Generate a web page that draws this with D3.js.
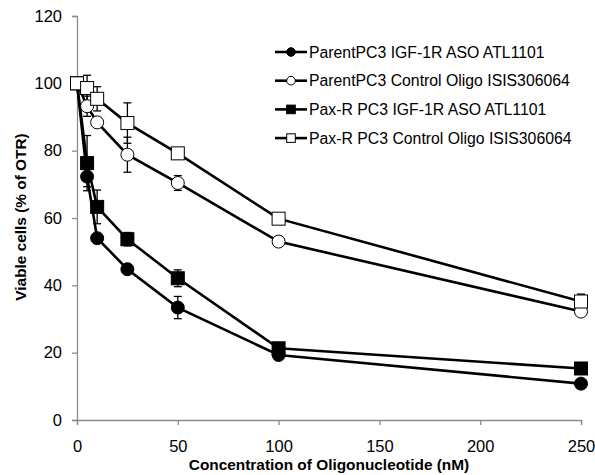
<!DOCTYPE html>
<html>
<head>
<meta charset="utf-8">
<script src="https://cdn.jsdelivr.net/npm/d3@7"></script>
<style>
  body { margin: 0; background: #fff; }
  svg text { font-family: "Liberation Sans", Arial, sans-serif; }
</style>
</head>
<body>
<svg width="595" height="475"></svg>
<script>
var conc = [0, 5, 10, 25, 50, 100, 250];

var seriesNames = [
  "ParentPC3 IGF-1R ASO ATL1101",
  "ParentPC3 Control Oligo ISIS306064",
  "Pax-R PC3 IGF-1R ASO ATL1101",
  "Pax-R PC3 Control Oligo ISIS306064"
];
var parentAso = [100, 72.3, 54, 44.8, 33.4, 19.3, 10.8];
var parentAsoErr = [0, 3, 1, 1, 3.3, 1, 0.8];
var parentCtrl = [100, 93.2, 88.4, 78.8, 70.4, 53, 32.2];
var parentCtrlErr = [0, 3, 1.5, 5.2, 2.2, 1, 1];
var paxAso = [100, 76.3, 63.3, 53.7, 42.1, 21.3, 15.3];
var paxAsoErr = [0, 8.2, 5, 2, 2.5, 1, 0.8];
var paxCtrl = [100, 98.6, 95.4, 88.2, 79.2, 59.8, 35.2];
var paxCtrlErr = [0, 3.8, 3.6, 6, 1.6, 1, 2.2];

var xTicks = [0, 50, 100, 150, 200, 250];
var yTicks = [0, 20, 40, 60, 80, 100, 120];

var svg = d3.select("svg");
var x = d3.scaleLinear().domain([0, 250]).range([77, 581]);
var y = d3.scaleLinear().domain([0, 120]).range([420, 16]);

var series = [
  { name: seriesNames[0], v: parentAso, e: parentAsoErr, shape: "circle", fill: "#000" },
  { name: seriesNames[1], v: parentCtrl, e: parentCtrlErr, shape: "circle", fill: "#fff" },
  { name: seriesNames[2], v: paxAso, e: paxAsoErr, shape: "square", fill: "#000" },
  { name: seriesNames[3], v: paxCtrl, e: paxCtrlErr, shape: "square", fill: "#fff" }
];

// axes
var xAxis = svg.append("g").attr("transform", "translate(0,420)")
  .call(d3.axisBottom(x).tickValues(xTicks).tickSize(5).tickPadding(15));
var yAxis = svg.append("g").attr("transform", "translate(77,0)")
  .call(d3.axisLeft(y).tickValues(yTicks).tickSize(5).tickPadding(10));
[xAxis, yAxis].forEach(function(a) {
  a.selectAll("path, line").attr("stroke", "#8c8c8c").attr("stroke-width", 1.3);
  a.selectAll("text").attr("font-size", 16.5).attr("fill", "#000")
    .style("font-family", "'Liberation Sans', Arial, sans-serif");
});

svg.append("text").attr("x", 329).attr("y", 470)
  .attr("text-anchor", "middle").attr("font-size", 15.4).attr("font-weight", "bold")
  .text("Concentration of Oligonucleotide (nM)");
svg.append("text").attr("transform", "translate(26,217) rotate(-90)")
  .attr("text-anchor", "middle").attr("font-size", 15.4).attr("font-weight", "bold")
  .text("Viable cells (% of OTR)");

var line = d3.line().x(function(d, i) { return x(conc[i]); }).y(function(d) { return y(d); });

series.forEach(function(s) {
  svg.append("path").datum(s.v).attr("d", line)
    .attr("fill", "none").attr("stroke", "#000").attr("stroke-width", 2.6);
});

// error bars
series.forEach(function(s) {
  var g = svg.append("g").attr("stroke", "#000").attr("stroke-width", 1.3);
  s.v.forEach(function(v, i) {
    if (!s.e[i]) return;
    var cx = x(conc[i]);
    g.append("line").attr("x1", cx).attr("x2", cx).attr("y1", y(v - s.e[i])).attr("y2", y(v + s.e[i]));
    [v - s.e[i], v + s.e[i]].forEach(function(t) {
      g.append("line").attr("x1", cx - 4).attr("x2", cx + 4).attr("y1", y(t)).attr("y2", y(t));
    });
  });
});

function marker(g, shape, fill, cx, cy, r) {
  if (shape === "circle") {
    g.append("circle").attr("cx", cx).attr("cy", cy).attr("r", r)
      .attr("fill", fill).attr("stroke", "#000").attr("stroke-width", 1);
  } else {
    g.append("rect").attr("x", cx - r).attr("y", cy - r).attr("width", 2 * r).attr("height", 2 * r)
      .attr("fill", fill).attr("stroke", "#000").attr("stroke-width", 1);
  }
}

series.forEach(function(s) {
  var g = svg.append("g");
  s.v.forEach(function(v, i) { marker(g, s.shape, s.fill, x(conc[i]), y(v), 6.5); });
});

// legend
var legend = svg.append("g");
series.forEach(function(s, i) {
  var ly = 52 + i * 28.7;
  legend.append("line").attr("x1", 275).attr("x2", 307).attr("y1", ly).attr("y2", ly)
    .attr("stroke", "#000").attr("stroke-width", 2.6);
  marker(legend, s.shape, s.fill, 291, ly, 4.3);
  legend.append("text").attr("x", 309).attr("y", ly + 5.7).attr("font-size", 15.8).text(s.name);
});
</script>
</body>
</html>
